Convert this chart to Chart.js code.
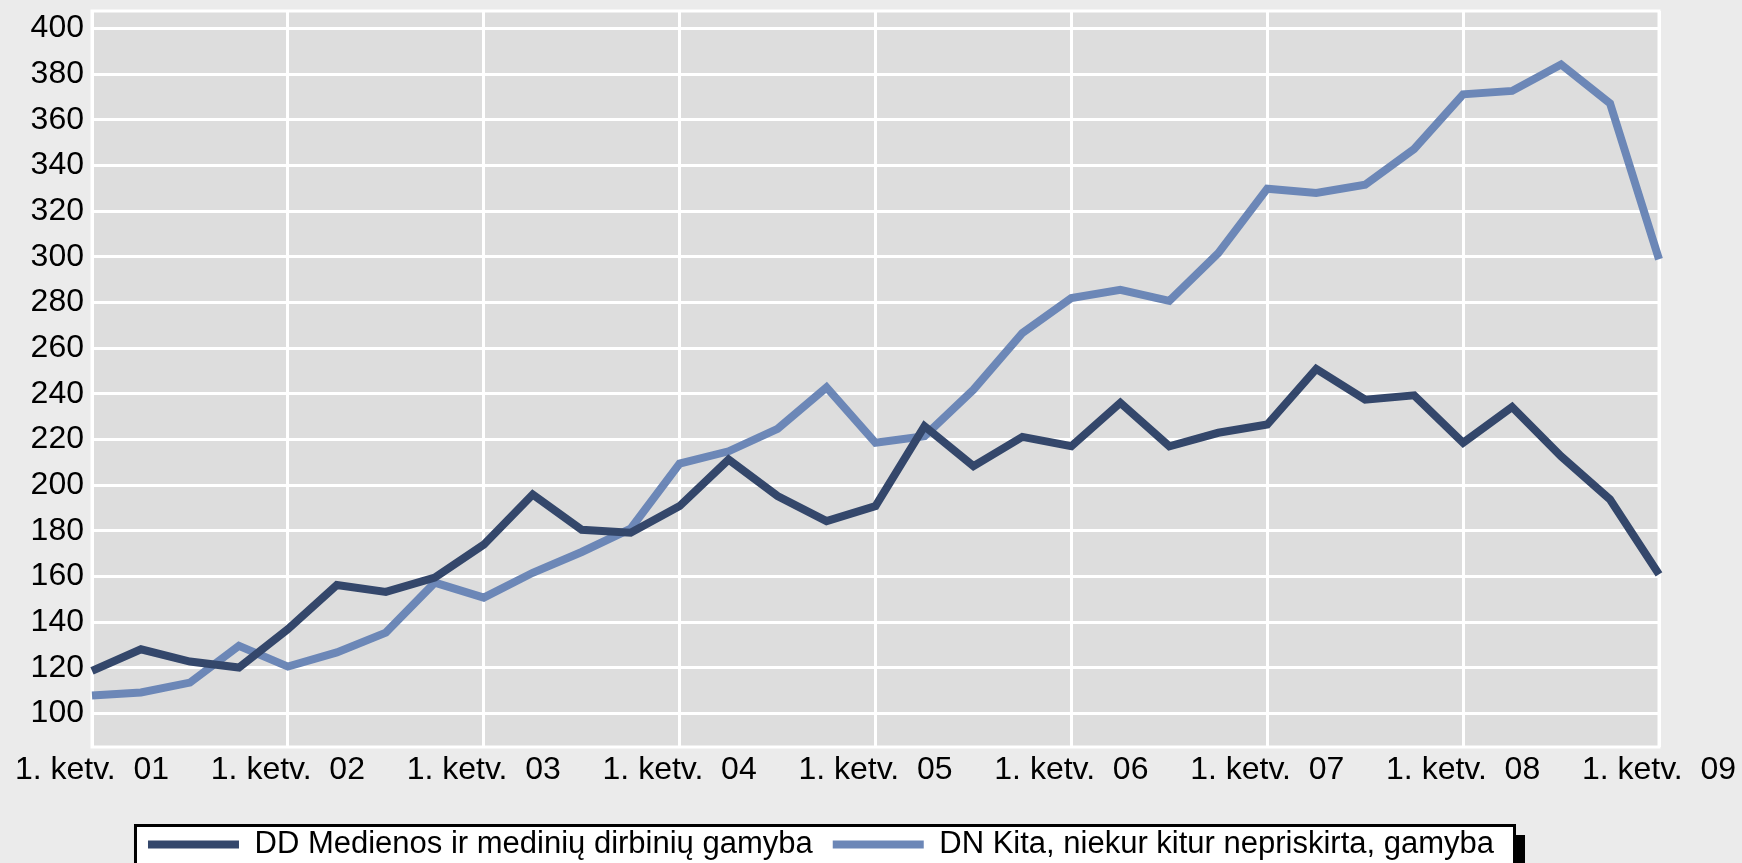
<!DOCTYPE html>
<html>
<head>
<meta charset="utf-8">
<script src="https://cdn.jsdelivr.net/npm/chart.js@4.4.0/dist/chart.umd.min.js"></script>
<style>
  html, body { margin: 0; padding: 0; background: #ebebeb; }
  #wrap { width: 1742px; height: 863px; position: relative; }
</style>
</head>
<body>
<div id="wrap"><canvas id="c"></canvas></div>
<script>
// quarters 2001 Q1 .. 2009 Q1
const quarters = [
  '1. ketv.  01', '2. ketv.  01', '3. ketv.  01', '4. ketv.  01',
  '1. ketv.  02', '2. ketv.  02', '3. ketv.  02', '4. ketv.  02',
  '1. ketv.  03', '2. ketv.  03', '3. ketv.  03', '4. ketv.  03',
  '1. ketv.  04', '2. ketv.  04', '3. ketv.  04', '4. ketv.  04',
  '1. ketv.  05', '2. ketv.  05', '3. ketv.  05', '4. ketv.  05',
  '1. ketv.  06', '2. ketv.  06', '3. ketv.  06', '4. ketv.  06',
  '1. ketv.  07', '2. ketv.  07', '3. ketv.  07', '4. ketv.  07',
  '1. ketv.  08', '2. ketv.  08', '3. ketv.  08', '4. ketv.  08',
  '1. ketv.  09'
];

const ddName = 'DD Medienos ir medinių dirbinių gamyba';
const ddValues = [118.7, 128.2, 122.8, 120.2, 137, 156.3, 153.3, 159.6, 174, 196,
  180.5, 179.2, 190.9, 211.3, 195.3, 184.3, 190.9, 225.9, 208.4, 221.2,
  217.1, 236.1, 217.1, 223, 226.6, 251, 237.5, 239.4, 218.6, 234.3,
  212.7, 193.8, 161];

const dnName = 'DN Kita, niekur kitur nepriskirta, gamyba';
const dnValues = [108, 109.3, 113.6, 129.7, 120.6, 126.8, 135.5, 157.4, 150.8, 161.7,
  170.8, 181, 209.5, 214.9, 224.7, 242.9, 218.6, 221.5, 241.9, 266.7,
  282, 285.6, 280.8, 301.7, 329.9, 328, 331.6, 347.3, 371.2, 372.7,
  384.3, 367.3, 299];

const yTicks = [100, 120, 140, 160, 180, 200, 220, 240, 260, 280, 300, 320, 340, 360, 380, 400];

const FONT = "'Liberation Sans', Arial, sans-serif";

// grey plot area + legend frame
const plotBg = {
  id: 'plotBg',
  afterLayout(chart) {
    // legend sits a bit left and low in the original
    const lg = chart.legend;
    lg.left -= 50; lg.right -= 50;
    lg.top += 7; lg.bottom += 7;
  },
  beforeDraw(chart) {
    const ctx = chart.ctx;
    const a = chart.chartArea;
    ctx.save();
    ctx.fillStyle = '#dddddd';
    ctx.fillRect(a.left, a.top, a.right - a.left, a.bottom - a.top);

    const hb = chart.legend.legendHitBoxes;
    if (hb && hb.length) {
      const l = hb[0].left - 14;
      const r = hb[hb.length - 1].left + hb[hb.length - 1].width + 22;
      const t = hb[0].top - 5;
      ctx.fillStyle = '#000';
      ctx.fillRect(r, t + 11, 9, 100);
      ctx.fillStyle = '#fff';
      ctx.fillRect(l, t, r - l, 100);
      ctx.strokeStyle = '#000';
      ctx.lineWidth = 3;
      ctx.strokeRect(l + 1.5, t + 1.5, r - l - 3, 100);
    }
    ctx.restore();
  },
  beforeDatasetsDraw(chart) {
    const ctx = chart.ctx;
    const a = chart.chartArea;
    ctx.save();
    ctx.strokeStyle = '#ffffff';
    ctx.lineWidth = 3;
    ctx.strokeRect(a.left, a.top, a.right - a.left, a.bottom - a.top);
    ctx.restore();
  }
};

const ctx = document.getElementById('c');
const myChart = new Chart(ctx, {
  type: 'line',
  data: {
    labels: quarters,
    datasets: [{
      label: ddName,
      data: ddValues,
      borderColor: '#34476b',
      backgroundColor: '#34476b',
      borderWidth: 8,
      pointRadius: 0,
      tension: 0
    }, {
      label: dnName,
      data: dnValues,
      borderColor: '#6c87b7',
      backgroundColor: '#6c87b7',
      borderWidth: 8,
      pointRadius: 0,
      tension: 0
    }]
  },
  plugins: [plotBg],
  options: {
    responsive: true,
    maintainAspectRatio: false,
    animation: false,
    layout: { padding: { top: 11, left: 0, right: 0, bottom: 0 } },
    plugins: {
      tooltip: { enabled: false },
      legend: {
        position: 'bottom',
        labels: {
          boxWidth: 91,
          boxHeight: 8,
          padding: 20,
          color: '#000',
          font: { family: FONT, size: 31 },
          generateLabels(chart) {
            const items = Chart.defaults.plugins.legend.labels.generateLabels(chart);
            items.forEach(it => { it.lineWidth = 0; it.fillStyle = it.strokeStyle; });
            return items;
          }
        }
      }
    },
    scales: {
      x: {
        grid: { color: '#ffffff', lineWidth: 3, drawTicks: false },
        border: { display: false },
        ticks: {
          autoSkip: false,
          maxRotation: 0,
          padding: 4,
          color: '#000',
          font: { family: FONT, size: 32 },
          callback(value, index) {
            return index % 4 === 0 ? this.getLabelForValue(value) : null;
          }
        },
        afterFit(scale) {
          scale.height = 55;
          scale.paddingLeft = 0;
          scale.paddingRight = 83;
        }
      },
      y: {
        min: 85.4,
        max: 407.7,
        grid: { color: '#ffffff', lineWidth: 3, drawTicks: false },
        border: { display: false },
        ticks: {
          padding: 8,
          color: '#000',
          font: { family: FONT, size: 32 }
        },
        afterBuildTicks(scale) {
          scale.ticks = yTicks.map(v => ({ value: v }));
        },
        afterFit(scale) {
          scale.width = 92;
          scale.paddingTop = 0;
          scale.paddingBottom = 0;
        }
      }
    }
  }
});
</script>
</body>
</html>
